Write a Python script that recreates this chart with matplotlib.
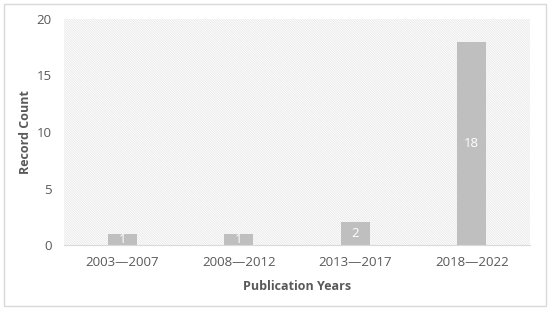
import matplotlib.pyplot as plt
from matplotlib.patches import Rectangle

periods = ["2003\u20142007", "2008\u20142012", "2013\u20142017", "2018\u20142022"]
counts = [1, 1, 2, 18]

plt.rcParams["font.family"] = ["Open Sans", "DejaVu Sans"]
plt.rcParams["hatch.color"] = "#e3e3e3"
plt.rcParams["hatch.linewidth"] = 0.5

fig = plt.figure(figsize=(5.5, 3.11), dpi=100)
fig.patches.append(Rectangle((0.008, 0.016), 0.984, 0.97, transform=fig.transFigure,
                             fill=False, edgecolor="#d9d9d9", linewidth=1))
ax = fig.add_axes([64 / 550, 1 - 245 / 311, 466 / 550, 226 / 311])

ax.patch.set_facecolor("white")
ax.patch.set_hatch("\\" * 14)
ax.patch.set_edgecolor("#e3e3e3")

x = range(len(periods))
bars = ax.bar(x, counts, width=0.25, color="#bfbfbf", zorder=2)
for b, v in zip(bars, counts):
    ax.text(b.get_x() + b.get_width() / 2, v / 2, str(v), ha="center", va="center",
            color="white", fontsize=9.5, zorder=3)

ax.set_xlim(-0.5, 3.5)
ax.set_ylim(0, 20)
ax.set_yticks([0, 5, 10, 15, 20])
ax.set_xticks(list(x))
ax.set_xticklabels(periods)
for s in ["top", "right", "left"]:
    ax.spines[s].set_visible(False)
ax.spines["bottom"].set_color("#d9d9d9")
ax.tick_params(length=0, colors="#595959", labelsize=9.5)
ax.tick_params(axis="y", pad=9)
ax.tick_params(axis="x", pad=8)

ax.set_xlabel("Publication Years", fontsize=9, fontweight="bold", color="#595959", labelpad=8)
ax.set_ylabel("Record Count", fontsize=9, fontweight="bold", color="#595959", labelpad=3)

fig.savefig("out.png", dpi=100)
